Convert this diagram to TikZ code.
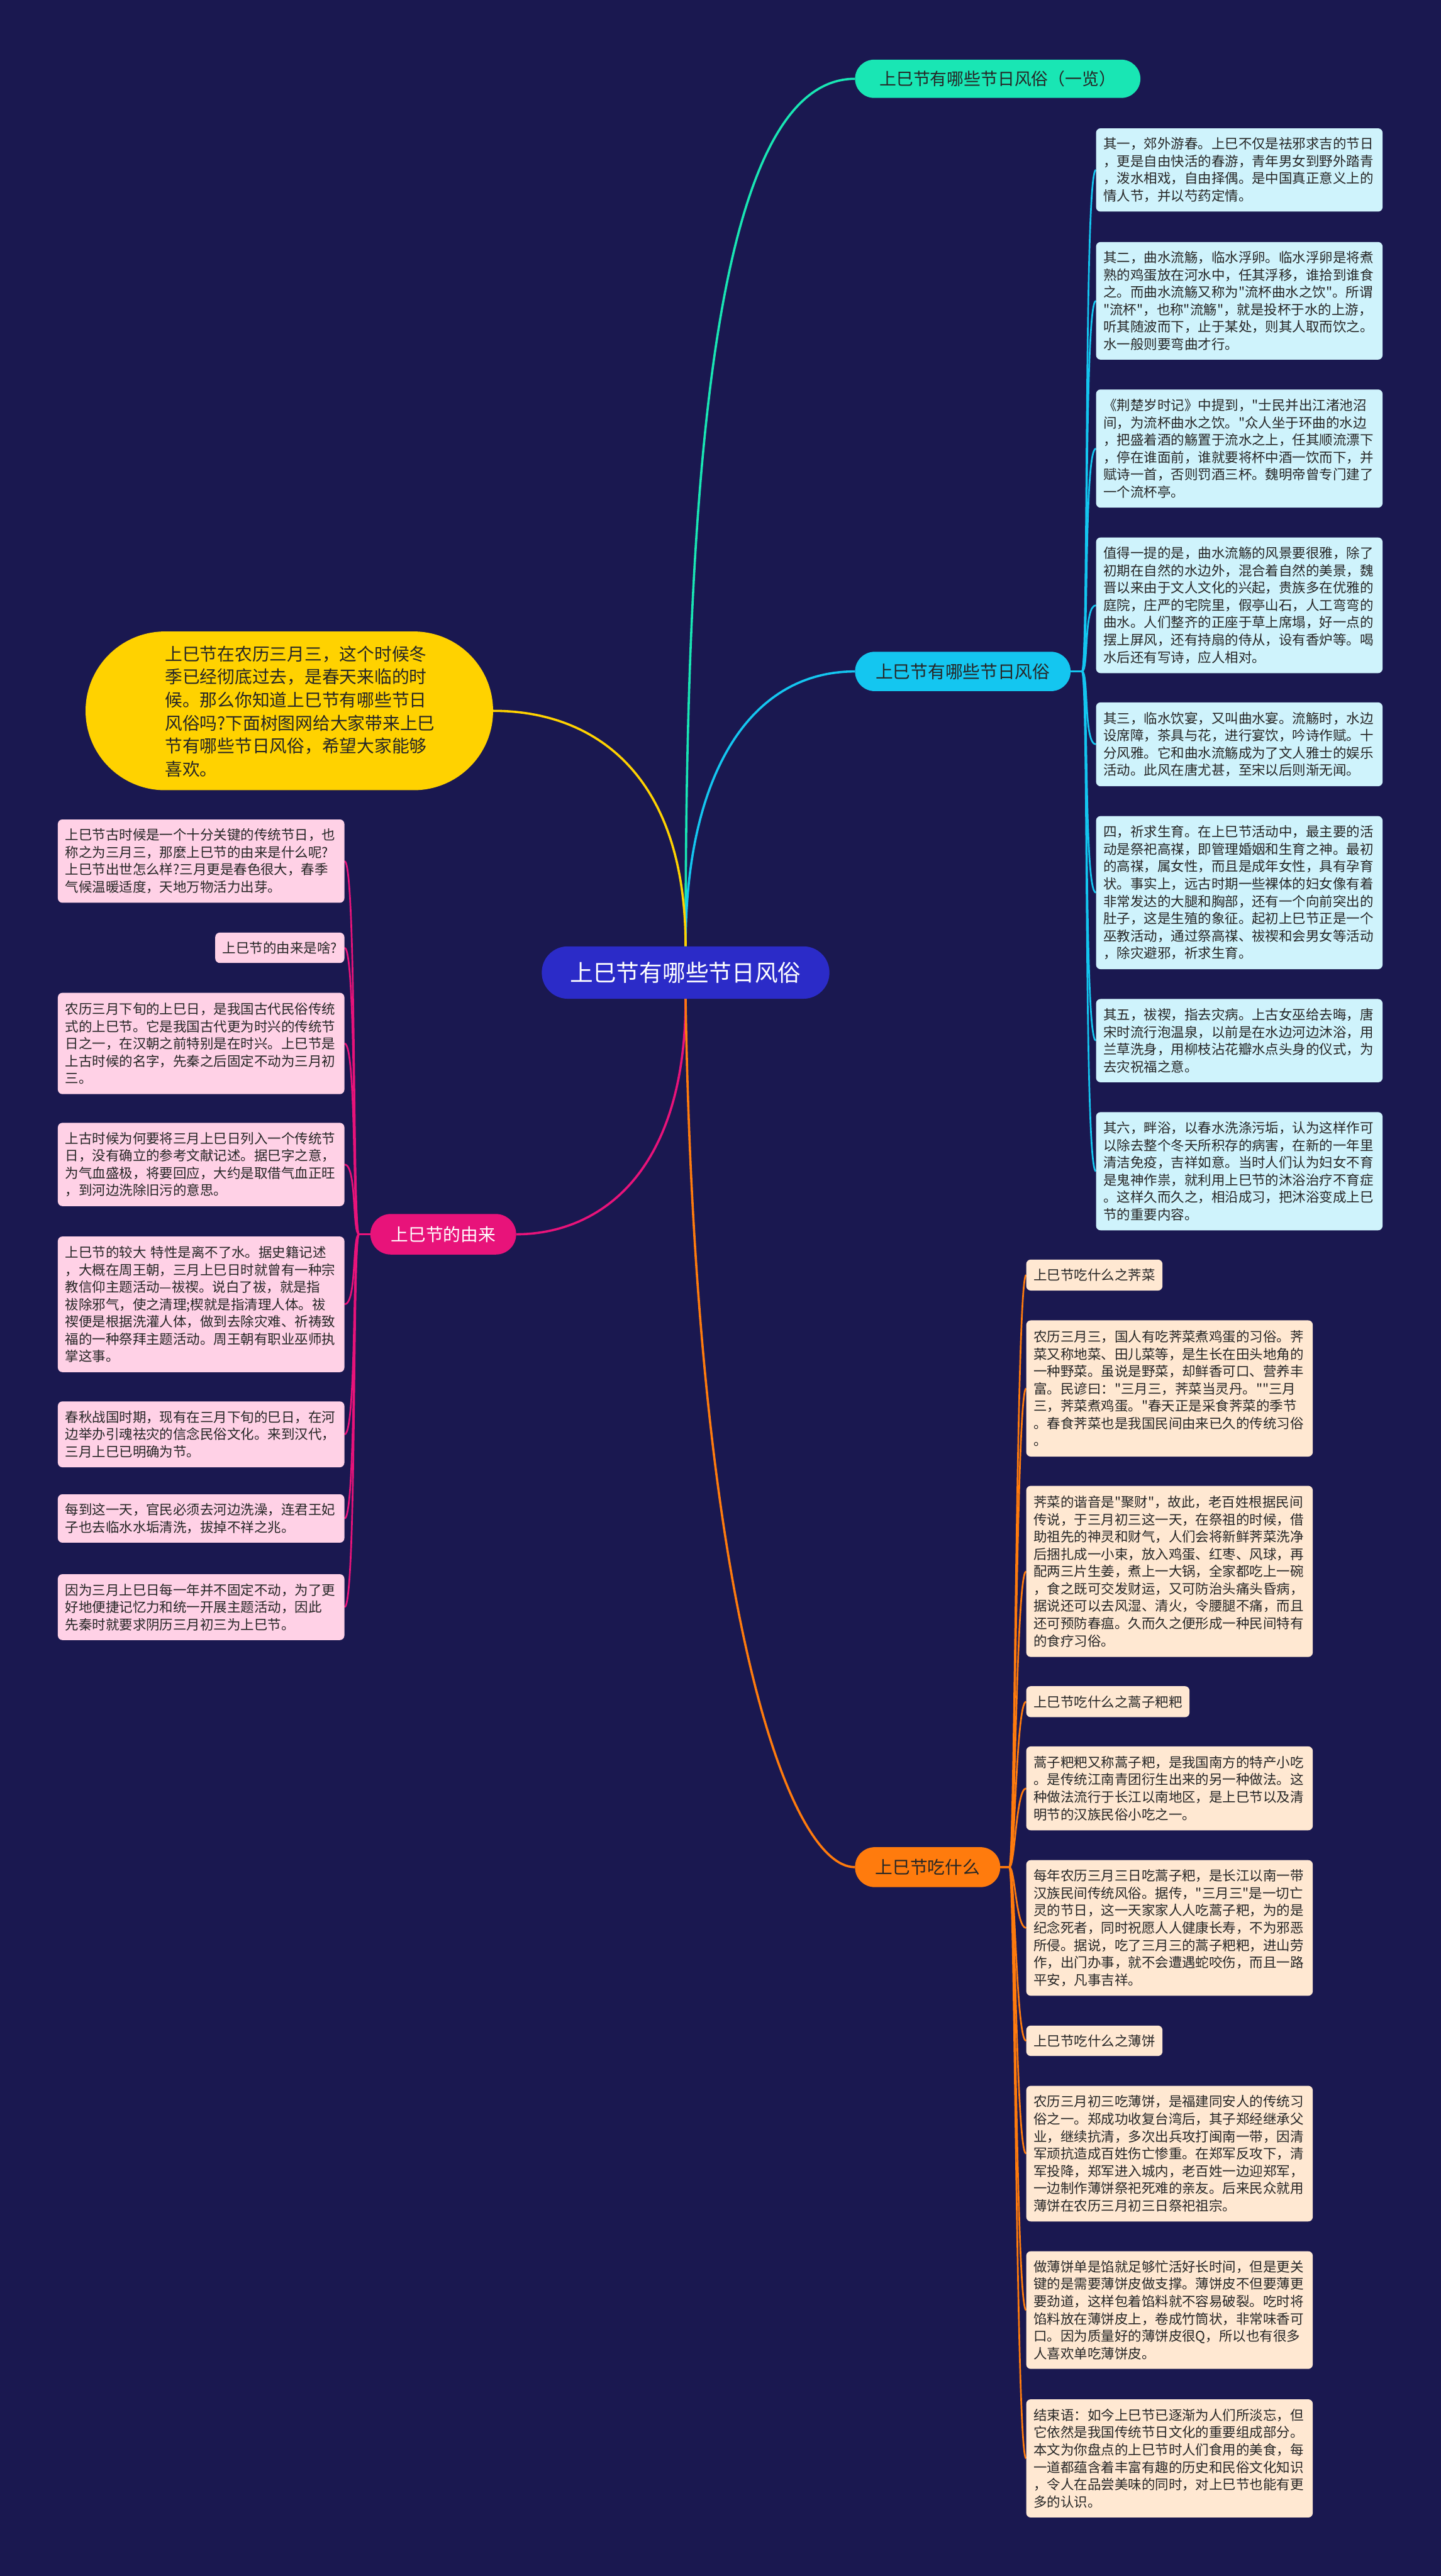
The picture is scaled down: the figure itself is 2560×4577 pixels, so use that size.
\documentclass[tikz,border=0pt]{standalone}
\usepackage{fontspec}
\setmainfont{Noto Sans CJK SC}
\newfontfamily\cjkfont{Noto Sans CJK SC}
\definecolor{bgc}{HTML}{1A1850}
\definecolor{rootc}{HTML}{2B2BC8}
\definecolor{tealc}{HTML}{19E6B4}
\definecolor{cyanc}{HTML}{14C6F0}
\definecolor{magc}{HTML}{E8137A}
\definecolor{orgc}{HTML}{FF7B0D}
\definecolor{yelc}{HTML}{FFD200}
\definecolor{blueboxc}{HTML}{CFF3FC}
\definecolor{pinkboxc}{HTML}{FFD1E6}
\definecolor{peachboxc}{HTML}{FFE8D2}
\definecolor{txt}{HTML}{262626}
\pgfdeclarelayer{bgfill}
\pgfdeclarelayer{lines}
\pgfsetlayers{bgfill,lines,main}
\tikzset{
  box/.style={rectangle, rounded corners=8pt, inner xsep=13pt, inner ysep=4pt, text width=483pt, align=left, font=\cjkfont\fontsize{24}{30.8}\selectfont, text=txt},
  hbox/.style={rectangle, rounded corners=8pt, inner xsep=13pt, inner ysep=4pt, font=\cjkfont\fontsize{24}{30.8}\selectfont, text=txt},
  bluebox/.style={box, fill=blueboxc, anchor=west},
  pinkbox/.style={box, fill=pinkboxc, anchor=east},
  peachbox/.style={box, fill=peachboxc, anchor=west},
  pill/.style={rectangle, inner sep=0pt, align=center},
  mainline/.style={line width=4pt},
  thinline/.style={line width=3pt},
}
\begin{document}
\cjkfont
\begin{tikzpicture}[x=1pt,y=-1pt]
\useasboundingbox (0,0) rectangle (2560,4577);
\begin{pgfonlayer}{bgfill}
\fill[bgc] (0,0) rectangle (2560,4577);
\end{pgfonlayer}

% root and branch pills
\node[pill, fill=rootc, text=white, font=\cjkfont\fontsize{41}{49}\selectfont, minimum width=511pt, minimum height=93pt, rounded corners=46pt] (root) at (1218,1728) {上巳节有哪些节日风俗};
\node[pill, fill=tealc, text=txt, font=\cjkfont\fontsize{30}{36}\selectfont, minimum width=507pt, minimum height=68pt, rounded corners=34pt] (teal) at (1772.5,140) {上巳节有哪些节日风俗（一览）};
\node[pill, fill=cyanc, text=txt, font=\cjkfont\fontsize{31}{37}\selectfont, minimum width=383pt, minimum height=70pt, rounded corners=35pt] (cyan) at (1710.5,1193) {上巳节有哪些节日风俗};
\node[pill, fill=magc, text=white, font=\cjkfont\fontsize{31}{37}\selectfont, minimum width=259pt, minimum height=72pt, rounded corners=36pt] (mag) at (787.5,2193) {上巳节的由来};
\node[pill, fill=orgc, text=txt, font=\cjkfont\fontsize{31}{37}\selectfont, minimum width=258pt, minimum height=71pt, rounded corners=35pt] (org) at (1648,3317.5) {上巳节吃什么};

% intro bubble
\node[pill, fill=yelc, minimum width=724pt, minimum height=282pt, rounded corners=141pt] (bubble) at (514,1263) {};
\node[anchor=west, inner sep=0pt, align=left, text=txt, font=\cjkfont\fontsize{31}{41}\selectfont] (introtext) at (293,1264) {上巳节在农历三月三，这个时候冬\\季已经彻底过去，是春天来临的时\\候。那么你知道上巳节有哪些节日\\风俗吗?下面树图网给大家带来上巳\\节有哪些节日风俗，希望大家能够\\喜欢。};

% cyan children
\node[bluebox, minimum height=148pt] (b1) at (1947,302) {其一，郊外游春。上巳不仅是祛邪求吉的节日\\，更是自由快活的春游，青年男女到野外踏青\\，泼水相戏，自由择偶。是中国真正意义上的\\情人节，并以芍药定情。};
\node[bluebox, minimum height=209pt] (b2) at (1947,534.5) {其二，曲水流觞，临水浮卵。临水浮卵是将煮\\熟的鸡蛋放在河水中，任其浮移，谁拾到谁食\\之。而曲水流觞又称为"流杯曲水之饮"。所谓\\"流杯"，也称"流觞"，就是投杯于水的上游，\\听其随波而下，止于某处，则其人取而饮之。\\水一般则要弯曲才行。};
\node[bluebox, minimum height=210pt] (b3) at (1947,797) {《荆楚岁时记》中提到，"士民并出江渚池沼\\间，为流杯曲水之饮。"众人坐于环曲的水边\\，把盛着酒的觞置于流水之上，任其顺流漂下\\，停在谁面前，谁就要将杯中酒一饮而下，并\\赋诗一首，否则罚酒三杯。魏明帝曾专门建了\\一个流杯亭。};
\node[bluebox, minimum height=241pt] (b4) at (1947,1075.5) {值得一提的是，曲水流觞的风景要很雅，除了\\初期在自然的水边外，混合着自然的美景，魏\\晋以来由于文人文化的兴起，贵族多在优雅的\\庭院，庄严的宅院里，假亭山石，人工弯弯的\\曲水。人们整齐的正座于草上席塌，好一点的\\摆上屏风，还有持扇的侍从，设有香炉等。喝\\水后还有写诗，应人相对。};
\node[bluebox, minimum height=149pt] (b5) at (1947,1322.5) {其三，临水饮宴，又叫曲水宴。流觞时，水边\\设席障，茶具与花，进行宴饮，吟诗作赋。十\\分风雅。它和曲水流觞成为了文人雅士的娱乐\\活动。此风在唐尤甚，至宋以后则渐无闻。};
\node[bluebox, minimum height=272pt] (b6) at (1947,1586) {四，祈求生育。在上巳节活动中，最主要的活\\动是祭祀高禖，即管理婚姻和生育之神。最初\\的高禖，属女性，而且是成年女性，具有孕育\\状。事实上，远古时期一些裸体的妇女像有着\\非常发达的大腿和胸部，还有一个向前突出的\\肚子，这是生殖的象征。起初上巳节正是一个\\巫教活动，通过祭高禖、祓禊和会男女等活动\\，除灾避邪，祈求生育。};
\node[bluebox, minimum height=148pt] (b7) at (1947,1849) {其五，祓禊，指去灾病。上古女巫给去晦，唐\\宋时流行泡温泉，以前是在水边河边沐浴，用\\兰草洗身，用柳枝沾花瓣水点头身的仪式，为\\去灾祝福之意。};
\node[bluebox, minimum height=210pt] (b8) at (1947,2081) {其六，畔浴，以春水洗涤污垢，认为这样作可\\以除去整个冬天所积存的病害，在新的一年里\\清洁免疫，吉祥如意。当时人们认为妇女不育\\是鬼神作祟，就利用上巳节的沐浴治疗不育症\\。这样久而久之，相沿成习，把沐浴变成上巳\\节的重要内容。};

% magenta children
\node[pinkbox, minimum height=148pt] (l1) at (612,1530) {上巳节古时候是一个十分关键的传统节日，也\\称之为三月三，那麼上巳节的由来是什么呢?\\上巳节出世怎么样?三月更是春色很大，春季\\气候温暖适度，天地万物活力出芽。};
\node[hbox, fill=pinkboxc, anchor=east, minimum height=54pt] (l2) at (612,1684) {上巳节的由来是啥?};
\node[pinkbox, minimum height=180pt] (l3) at (612,1854) {农历三月下旬的上巳日，是我国古代民俗传统\\式的上巳节。它是我国古代更为时兴的传统节\\日之一，在汉朝之前特别是在时兴。上巳节是\\上古时候的名字，先秦之后固定不动为三月初\\三。};
\node[pinkbox, minimum height=148pt] (l4) at (612,2069) {上古时候为何要将三月上巳日列入一个传统节\\日，没有确立的参考文献记述。据巳字之意，\\为气血盛极，将要回应，大约是取借气血正旺\\，到河边洗除旧污的意思。};
\node[pinkbox, minimum height=241pt] (l5) at (612,2317.5) {上巳节的较大 特性是离不了水。据史籍记述\\，大概在周王朝，三月上巳日时就曾有一种宗\\教信仰主题活动—祓禊。说白了祓，就是指\\祓除邪气，使之清理;楔就是指清理人体。祓\\禊便是根据洗灌人体，做到去除灾难、祈祷致\\福的一种祭拜主题活动。周王朝有职业巫师执\\掌这事。};
\node[pinkbox, minimum height=117pt] (l6) at (612,2548.5) {春秋战国时期，现有在三月下旬的巳日，在河\\边举办引魂祛灾的信念民俗文化。来到汉代，\\三月上巳已明确为节。};
\node[pinkbox, minimum height=86pt] (l7) at (612,2698) {每到这一天，官民必须去河边洗澡，连君王妃\\子也去临水水垢清洗，拔掉不祥之兆。};
\node[pinkbox, minimum height=117pt] (l8) at (612,2855.5) {因为三月上巳日每一年并不固定不动，为了更\\好地便捷记忆力和统一开展主题活动，因此\\先秦时就要求阴历三月初三为上巳节。};

% orange children
\node[hbox, fill=peachboxc, anchor=west, minimum height=55pt] (o1) at (1823,2265.5) {上巳节吃什么之荠菜};
\node[peachbox, minimum height=242pt] (o2) at (1823,2467) {农历三月三，国人有吃荠菜煮鸡蛋的习俗。荠\\菜又称地菜、田儿菜等，是生长在田头地角的\\一种野菜。虽说是野菜，却鲜香可口、营养丰\\富。民谚曰："三月三，荠菜当灵丹。""三月\\三，荠菜煮鸡蛋。"春天正是采食荠菜的季节\\。春食荠菜也是我国民间由来已久的传统习俗\\。};
\node[peachbox, minimum height=304pt] (o3) at (1823,2792) {荠菜的谐音是"聚财"，故此，老百姓根据民间\\传说，于三月初三这一天，在祭祖的时候，借\\助祖先的神灵和财气，人们会将新鲜荠菜洗净\\后捆扎成一小束，放入鸡蛋、红枣、风球，再\\配两三片生姜，煮上一大锅，全家都吃上一碗\\，食之既可交发财运，又可防治头痛头昏病，\\据说还可以去风湿、清火，令腰腿不痛，而且\\还可预防春瘟。久而久之便形成一种民间特有\\的食疗习俗。};
\node[hbox, fill=peachboxc, anchor=west, minimum height=55pt] (o4) at (1823,3023.5) {上巳节吃什么之蒿子粑粑};
\node[peachbox, minimum height=149pt] (o5) at (1823,3177.5) {蒿子粑粑又称蒿子粑，是我国南方的特产小吃\\。是传统江南青团衍生出来的另一种做法。这\\种做法流行于长江以南地区，是上巳节以及清\\明节的汉族民俗小吃之一。};
\node[peachbox, minimum height=241pt] (o6) at (1823,3425.5) {每年农历三月三日吃蒿子粑，是长江以南一带\\汉族民间传统风俗。据传，"三月三"是一切亡\\灵的节日，这一天家家人人吃蒿子粑，为的是\\纪念死者，同时祝愿人人健康长寿，不为邪恶\\所侵。据说，吃了三月三的蒿子粑粑，进山劳\\作，出门办事，就不会遭遇蛇咬伤，而且一路\\平安，凡事吉祥。};
\node[hbox, fill=peachboxc, anchor=west, minimum height=54pt] (o7) at (1823,3626) {上巳节吃什么之薄饼};
\node[peachbox, minimum height=241pt] (o8) at (1823,3826.5) {农历三月初三吃薄饼，是福建同安人的传统习\\俗之一。郑成功收复台湾后，其子郑经继承父\\业，继续抗清，多次出兵攻打闽南一带，因清\\军顽抗造成百姓伤亡惨重。在郑军反攻下，清\\军投降，郑军进入城内，老百姓一边迎郑军，\\一边制作薄饼祭祀死难的亲友。后来民众就用\\薄饼在农历三月初三日祭祀祖宗。};
\node[peachbox, minimum height=209pt] (o9) at (1823,4104.5) {做薄饼单是馅就足够忙活好长时间，但是更关\\键的是需要薄饼皮做支撑。薄饼皮不但要薄更\\要劲道，这样包着馅料就不容易破裂。吃时将\\馅料放在薄饼皮上，卷成竹筒状，非常味香可\\口。因为质量好的薄饼皮很Q，所以也有很多\\人喜欢单吃薄饼皮。};
\node[peachbox, minimum height=210pt] (o10) at (1823,4368) {结束语：如今上巳节已逐渐为人们所淡忘，但\\它依然是我国传统节日文化的重要组成部分。\\本文为你盘点的上巳节时人们食用的美食，每\\一道都蕴含着丰富有趣的历史和民俗文化知识\\，令人在品尝美味的同时，对上巳节也能有更\\多的认识。};

\begin{pgfonlayer}{lines}
\draw[mainline, tealc] (root.north) .. controls (1218,900) and (1260,140) .. (teal.west);
\draw[mainline, cyanc] (root.north) .. controls (1218,1380) and (1330,1193) .. (cyan.west);
\draw[mainline, yelc] (root.north) .. controls (1218,1380) and (1060,1263) .. (bubble.east);
\draw[mainline, magc] (root.south) .. controls (1218,2090) and (1060,2193) .. (mag.east);
\draw[mainline, orgc] (root.south) .. controls (1235,2850) and (1400,3317.5) .. (org.west);
\foreach \c in {b1,b2,b3,b4,b5,b6,b7,b8}
  \draw[thinline, cyanc] (cyan.east) -- ++(20pt,0) .. controls +(12pt,0) and +(-22pt,0) .. (\c.west);
\foreach \c in {l1,l2,l3,l4,l5,l6,l7,l8}
  \draw[thinline, magc] (mag.west) -- ++(-20pt,0) .. controls +(-12pt,0) and +(22pt,0) .. (\c.east);
\foreach \c in {o1,o2,o3,o4,o5,o6,o7,o8,o9,o10}
  \draw[thinline, orgc] (org.east) -- ++(16pt,0) .. controls +(10pt,0) and +(-18pt,0) .. (\c.west);
\end{pgfonlayer}
\end{tikzpicture}
\end{document}
